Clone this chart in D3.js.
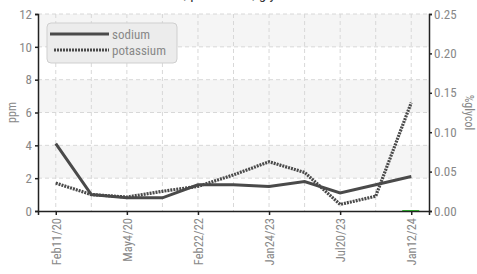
<html>
<head>
<script src="https://cdnjs.cloudflare.com/ajax/libs/d3/7.8.5/d3.min.js"></script>
<style>
  body { margin: 0; background: #fff; }
  text { font-family: "Roboto Condensed", "Liberation Sans Narrow", "DejaVu Sans Condensed", sans-serif; }
</style>
</head>
<body>
<svg id="chart" width="477" height="274"></svg>
<script>
	// sample dates, only every second one gets a label
	var dates = ["Feb11/20", "Mar20/20", "May4/20", "Jun30/21", "Feb22/22", "Jul10/22",
		"Jan24/23", "Apr18/23", "Jul20/23", "Oct30/23", "Jan12/24"]
	var sodium = [4.1, 1.0, 0.8, 0.8, 1.6, 1.6, 1.5, 1.8, 1.1, 1.6, 2.1]
	var potassium = [1.7, 1.0, 0.85, 1.2, 1.5, 2.2, 3.0, 2.35, 0.4, 0.9, 6.6]
	var glycol = [null, null, null, null, null, null, null, null, null, null, 0]
	var ppmTicks = [0, 2, 4, 6, 8, 10, 12]
	var glycolTicks = [0, 0.05, 0.10, 0.15, 0.20, 0.25]

	var plotLeft = 38, plotRight = 429, plotTop = 14, plotBottom = 211
	var fontStack = '"Roboto Condensed", "Liberation Sans Narrow", "DejaVu Sans Condensed", sans-serif'
	var svg = d3.select("#chart")

	var x = d3.scalePoint().domain(dates).range([plotLeft, plotRight]).padding(0.5)
	var y = d3.scaleLinear().domain([0, 12]).range([plotBottom, plotTop])
	var y2 = d3.scaleLinear().domain([0, 0.25]).range([plotBottom, plotTop])

	// alternating bands
	for (var i = 0; i < ppmTicks.length - 1; i++) {
		if (i % 2 == 1) {
			svg.append("rect")
			   .attr("x", plotLeft).attr("width", plotRight - plotLeft)
			   .attr("y", y(ppmTicks[i + 1])).attr("height", y(ppmTicks[i]) - y(ppmTicks[i + 1]))
			   .attr("fill", "#f5f5f5")
		}
	}

	// grid
	svg.append("g").selectAll("line").data(ppmTicks.slice(1)).enter().append("line")
	   .attr("x1", plotLeft).attr("x2", plotRight)
	   .attr("y1", d => y(d)).attr("y2", d => y(d))
	   .attr("stroke", "#d8d8d8").attr("stroke-dasharray", "4,3")
	svg.append("g").selectAll("line").data(dates).enter().append("line")
	   .attr("x1", d => x(d)).attr("x2", d => x(d))
	   .attr("y1", plotTop).attr("y2", plotBottom)
	   .attr("stroke", "#d8d8d8").attr("stroke-dasharray", "4,3")

	// title, mostly off the top of the window
	svg.append("text").attr("x", 139).attr("y", -1)
	   .attr("font-size", 15).attr("fill", "#333")
	   .text("Sodium, potassium, glycol")

	var line = d3.line().defined(d => d[1] != null).x(d => x(d[0])).y(d => y(d[1]))

	svg.append("path")
	   .attr("d", line(dates.map((d, i) => [d, sodium[i]])))
	   .attr("fill", "none").attr("stroke", "#4a4a4a").attr("stroke-width", 3)
	svg.append("path")
	   .attr("d", line(dates.map((d, i) => [d, potassium[i]])))
	   .attr("fill", "none").attr("stroke", "#4a4a4a").attr("stroke-width", 3.2)
	   .attr("stroke-dasharray", "2,1")

	// glycol readings (right axis) shown as short marks
	svg.append("g").selectAll("line").data(dates.filter((d, i) => glycol[i] != null)).enter()
	   .append("line")
	   .attr("x1", d => x(d) - 9).attr("x2", d => x(d) + 8)
	   .attr("y1", d => y2(glycol[dates.indexOf(d)])).attr("y2", d => y2(glycol[dates.indexOf(d)]))
	   .attr("stroke", "#33cc33").attr("stroke-width", 2)

	// axes
	var yAxis = svg.append("g").attr("transform", "translate(" + plotLeft + ",0)")
	   .call(d3.axisLeft(y).tickValues(ppmTicks).tickSize(3).tickPadding(3))
	var y2Axis = svg.append("g").attr("transform", "translate(" + plotRight + ",0)")
	   .call(d3.axisRight(y2).tickValues(glycolTicks).tickSize(3).tickPadding(2).tickFormat(d3.format(".2f")))
	var xAxis = svg.append("g").attr("transform", "translate(0," + plotBottom + ")")
	   .call(d3.axisBottom(x).tickValues(dates.filter((d, i) => i % 2 == 0)).tickSize(4))
	xAxis.selectAll("text")
	   .attr("transform", "rotate(-90)")
	   .attr("text-anchor", "end")
	   .attr("x", -7).attr("y", 0).attr("dy", "0.35em")

	;[yAxis, y2Axis, xAxis].forEach(function(a) {
		a.select(".domain").attr("stroke", "#222").attr("stroke-width", 1.5)
		a.selectAll(".tick line").attr("stroke", "#222").attr("stroke-width", 1.5)
		a.selectAll("text").attr("fill", "#888").attr("font-size", 13).style("font-family", fontStack)
	})
	xAxis.selectAll("text").attr("font-size", 12.5)

	svg.append("text").attr("transform", "translate(16," + y(6) + ") rotate(-90)")
	   .attr("text-anchor", "middle").attr("font-size", 12).attr("fill", "#888").text("ppm")
	svg.append("text").attr("transform", "translate(465," + y(6) + ") rotate(90)")
	   .attr("text-anchor", "middle").attr("font-size", 12).attr("fill", "#888").text("%glycol")

	// legend
	var lg = svg.append("g")
	lg.append("rect").attr("x", 47).attr("y", 23).attr("width", 130).attr("height", 40)
	  .attr("rx", 4).attr("fill", "#ececec").attr("stroke", "#cfcfcf")
	lg.append("line").attr("x1", 50).attr("x2", 109).attr("y1", 34).attr("y2", 34)
	  .attr("stroke", "#4a4a4a").attr("stroke-width", 3)
	lg.append("line").attr("x1", 54).attr("x2", 109).attr("y1", 50).attr("y2", 50)
	  .attr("stroke", "#4a4a4a").attr("stroke-width", 3.2).attr("stroke-dasharray", "2,1")
	lg.append("text").attr("x", 112).attr("y", 34).attr("dy", "0.35em")
	  .attr("font-size", 13).attr("fill", "#888").text("sodium")
	lg.append("text").attr("x", 112).attr("y", 50).attr("dy", "0.35em")
	  .attr("font-size", 13).attr("fill", "#888").text("potassium")
</script>
</body>
</html>
